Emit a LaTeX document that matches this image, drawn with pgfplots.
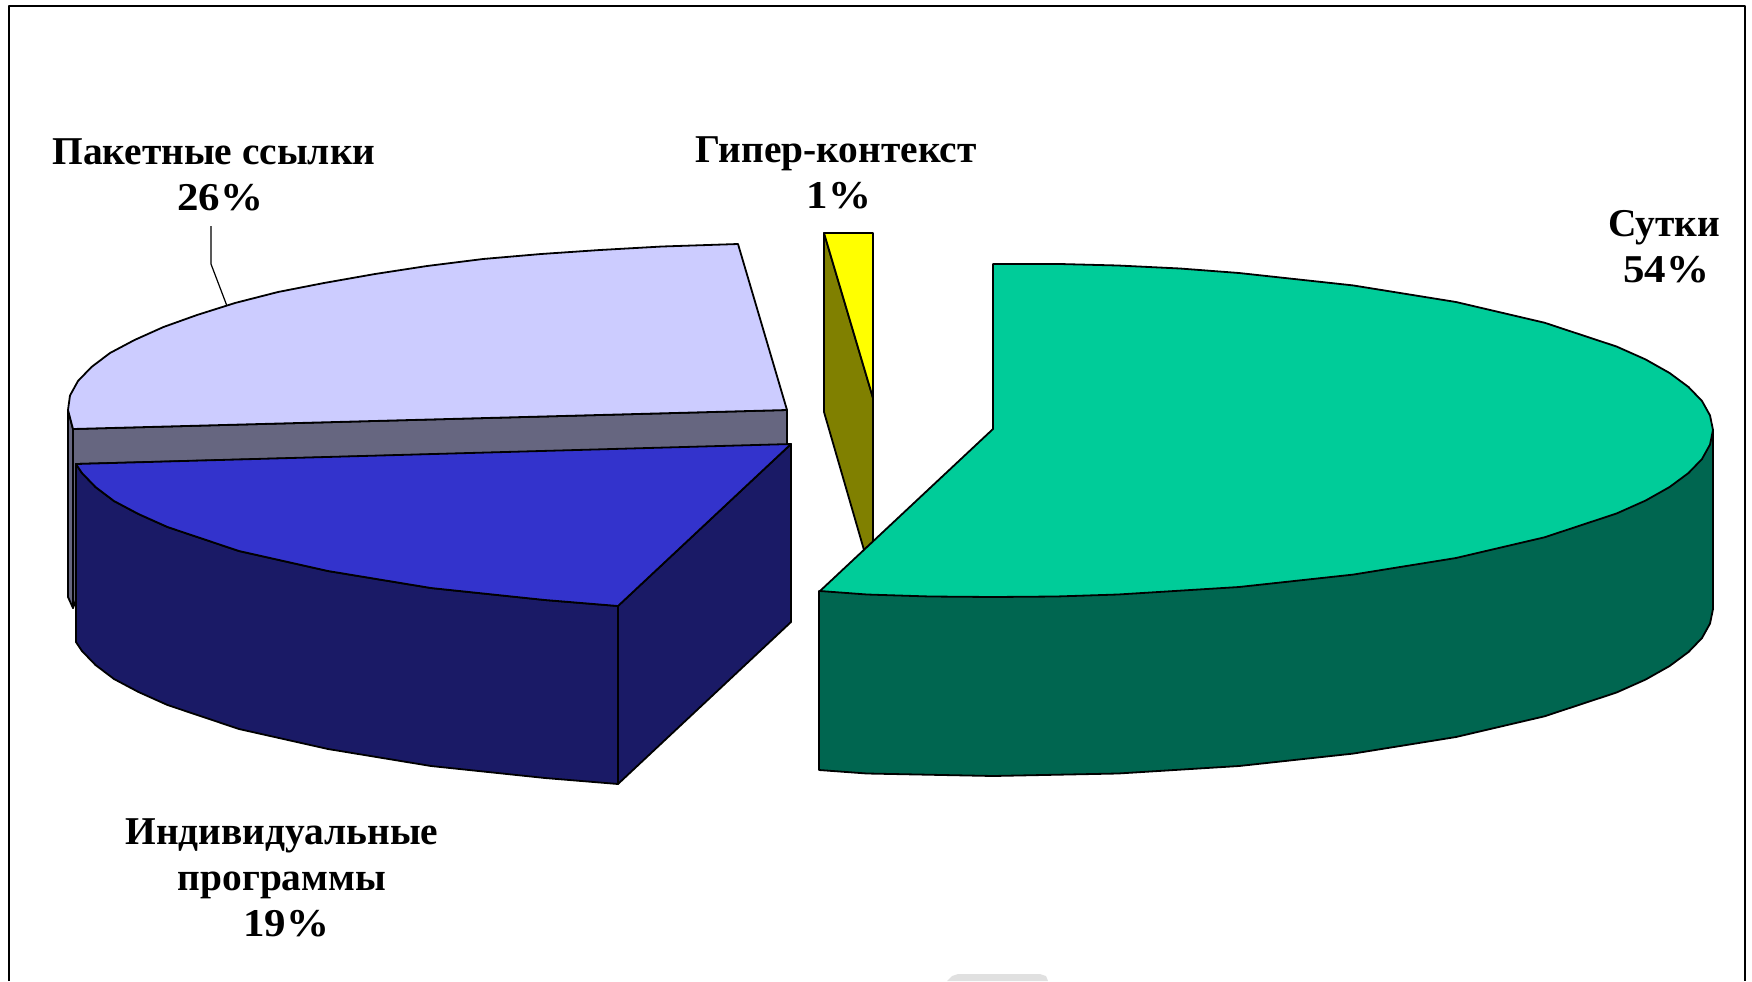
\documentclass[border=0pt]{standalone}
\usepackage{pgfplots}
\pgfplotsset{compat=1.18}
\usepackage{fontspec}
\usepackage{graphicx}
\setmainfont{Liberation Serif}

\definecolor{teal1}{HTML}{00CC99}
\definecolor{teal2}{HTML}{006650}
\definecolor{lilac}{HTML}{CCCCFF}
\definecolor{greyband}{HTML}{666680}
\definecolor{blue1}{HTML}{3333CC}
\definecolor{navy1}{HTML}{1A1A66}
\definecolor{olive1}{HTML}{808000}
\definecolor{yellow1}{HTML}{FFFF00}

\tikzset{lbl/.style={font=\fontsize{19.7}{23}\selectfont\bfseries, align=center}}
% the percent lines run a little wider than the names
\newcommand{\pct}[1]{\scalebox{1.09}[1]{#1\%}}

\begin{document}
\begin{tikzpicture}
\begin{axis}[
    scale only axis,
    width=876pt, height=490.5pt,
    xmin=0, xmax=1752,
    ymin=0, ymax=981,
    y dir=reverse,
    hide axis,
    every axis plot/.append style={line width=0.9pt, draw=black, line join=round},
]
% keeps the page as large as the axis box
\addplot[draw=none, forget plot] coordinates {(0,0)(1752,0)(1752,981)(0,981)} --cycle;
% frame
\addplot[line width=0.9pt, mark=none] coordinates {(9,981)(9,6)(1745,6)(1745,981)};
% grey tab at the bottom
\addplot[fill=black!12, draw=none, forget plot] coordinates {(947,981)(952,976)(958,974)(1040,974)(1046,976)(1048,981)} --cycle;

%% Пакетные ссылки, 26%
\addplot[fill=greyband] coordinates {(68,410)(73,429)(73,608)(68,597)} --cycle;
\addplot[fill=greyband] coordinates {(73,429)(787,410)(787,445)(76,464)(76,600)(73,608)} --cycle;
\addplot[fill=lilac] coordinates {
    (738,244)(662,246.5)(600,250)(541,254)(483,259)(427,266)(375,274)(324,283)
    (278,292)(235,303)(197,315)(163.5,327)(134.5,340)(110,353)(91.5,367)
    (78,381)(70,395.5)(68,410)(73,429)(787,410)} --cycle;
\addplot[line width=0.6pt] coordinates {(211,226)(211,264)(227,306)};

%% Индивидуальные программы, 19%
\addplot[fill=navy1] coordinates {(618,606)(791,444)(791,622)(618,784)} --cycle;
\addplot[fill=navy1] coordinates {
    (76,464)(82,473)(95.5,487)(114,501)(138.5,514)(167.5,527)(239,551)(328,571)
    (431,588)(545,600)(618,606)(618,784)(545,778)(431,766)(328,749)(239,729)
    (167.5,705)(138.5,692)(114,679)(95.5,665)(82,651)(76,642)} --cycle;
\addplot[fill=blue1] coordinates {
    (76,464)(791,444)(618,606)(545,600)(431,588)(328,571)(239,551)(167.5,527)
    (138.5,514)(114,501)(95.5,487)(82,473)} --cycle;

%% Гипер-контекст, 1%
\addplot[fill=olive1] coordinates {(824,233)(873,398)(873,543)(864,550)(824,412)} --cycle;
\addplot[fill=yellow1] coordinates {(824,233)(873,233)(873,398)} --cycle;

%% Сутки, 54%
\addplot[fill=teal2] coordinates {
    (819,591)(819,770)(867,773.5)(993,776)(1118,773.5)(1239,766)(1353,753.6)
    (1456,737)(1544.5,716.3)(1616.5,692.5)(1645.5,679.6)(1669.6,666)(1688.5,652)(1702,638)
    (1710,623.6)(1713,609)(1713,430)} --cycle;
\addplot[fill=teal1] coordinates {
    (993,264)(1060,264)(1118,265.5)(1180,268.5)(1239,273)(1353,285.4)(1456,302)
    (1544.5,322.7)(1616.5,346.5)(1645.5,359.4)(1669.6,373)(1688.5,387)(1702,401)(1710,415.4)
    (1713,430)(1710,444.6)(1702,459)(1688.5,473)(1669.6,487)(1645.5,500.6)(1616.5,513.5)
    (1544.5,537.3)(1456,558)(1353,574.6)(1239,587)(1118,594.5)(1056,596.5)(993,597)
    (930,596.5)(867,594.5)(820,591)(993,429)} --cycle;

% labels
\node[lbl] at (axis cs:214,175) {Пакетные ссылки\\\hspace*{6pt}\pct{26}};
\node[lbl] at (axis cs:836,173) {Гипер-контекст\\\hspace*{3pt}\pct{1}};
\node[lbl] at (axis cs:1664,247) {Сутки\\\hspace*{2pt}\pct{54}};
\node[lbl] at (axis cs:282,878) {Индивидуальные\\программы\\\hspace*{4pt}\pct{19}};
\end{axis}
\end{tikzpicture}
\end{document}
